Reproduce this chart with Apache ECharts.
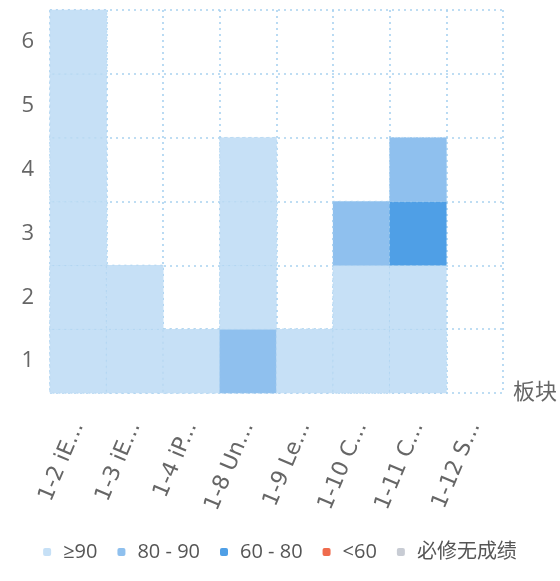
<!DOCTYPE html>
<html>
<head>
<meta charset="utf-8">
<script src="https://cdn.jsdelivr.net/npm/echarts@6/dist/echarts.min.js"></script>
<style>html,body{margin:0;padding:0;background:#fff}#c{width:560px;height:581px}</style>
</head>
<body>
<div id="c"></div>
<script>
const categories = ['1-2 iE...', '1-3 iE...', '1-4 iP...', '1-8 Un...', '1-9 Le...', '1-10 C...', '1-11 C...', '1-12 S...'];
const yLabels = ['1', '2', '3', '4', '5', '6'];
// [categoryIndex, levelIndex, score]
const cells = [
  [0,0,95],[0,1,95],[0,2,95],[0,3,95],[0,4,95],[0,5,95],
  [1,0,95],[1,1,95],
  [2,0,95],
  [3,0,85],[3,1,95],[3,2,95],[3,3,95],
  [4,0,95],
  [5,0,95],[5,1,95],[5,2,85],
  [6,0,95],[6,1,95],[6,2,70],[6,3,85]
];
const pieceLabels = ['≥90', '80 - 90', '60 - 80', '<60', '必修无成绩'];
const pieceColors = ['#c6e0f6', '#8fc0ee', '#4f9fe6', '#ef6b4d', '#c8ccd4'];

const chart = echarts.init(document.getElementById('c'));
const lineStyle = { color: '#a9d2f0', type: [2, 4], width: 1.6 };
chart.setOption({
  textStyle: { fontFamily: '"Open Sans", "Noto Sans CJK SC", sans-serif' },
  grid: { left: 50, right: 57, top: 10, bottom: 188 },
  xAxis: {
    type: 'category',
    data: categories,
    name: '板块',
    nameGap: 10,
    nameTextStyle: { color: '#666', fontSize: 22, padding: [72, 0, 0, 0] },
    axisLine: { show: false },
    axisTick: { show: false },
    axisLabel: { color: '#666', fontSize: 22, fontFamily: '"DejaVu Sans", sans-serif', rotate: 67, margin: 30, interval: 0 },
    splitLine: { show: true, lineStyle: lineStyle }
  },
  yAxis: {
    type: 'category',
    data: yLabels,
    axisLine: { show: false },
    axisTick: { show: false },
    axisLabel: { color: '#666', fontSize: 22, margin: 16 },
    splitLine: { show: true, lineStyle: lineStyle }
  },
  visualMap: {
    type: 'piecewise',
    orient: 'horizontal',
    inverse: true,
    left: 'center',
    bottom: 4,
    itemWidth: 8,
    itemHeight: 8,
    itemGap: 20,
    itemSymbol: 'roundRect',
    textGap: 12,
    textStyle: { color: '#555', fontSize: 20 },
    pieces: [
      { gte: 90, label: pieceLabels[0], color: pieceColors[0] },
      { gte: 80, lt: 90, label: pieceLabels[1], color: pieceColors[1] },
      { gte: 60, lt: 80, label: pieceLabels[2], color: pieceColors[2] },
      { gte: 0, lt: 60, label: pieceLabels[3], color: pieceColors[3] },
      { value: -1, label: pieceLabels[4], color: pieceColors[4] }
    ]
  },
  series: [{
    type: 'heatmap',
    data: cells,
    itemStyle: { borderColor: 'rgba(169,210,240,0.7)', borderType: [2, 4], borderWidth: 1 },
    emphasis: { disabled: true }
  }]
});
</script>
</body>
</html>
